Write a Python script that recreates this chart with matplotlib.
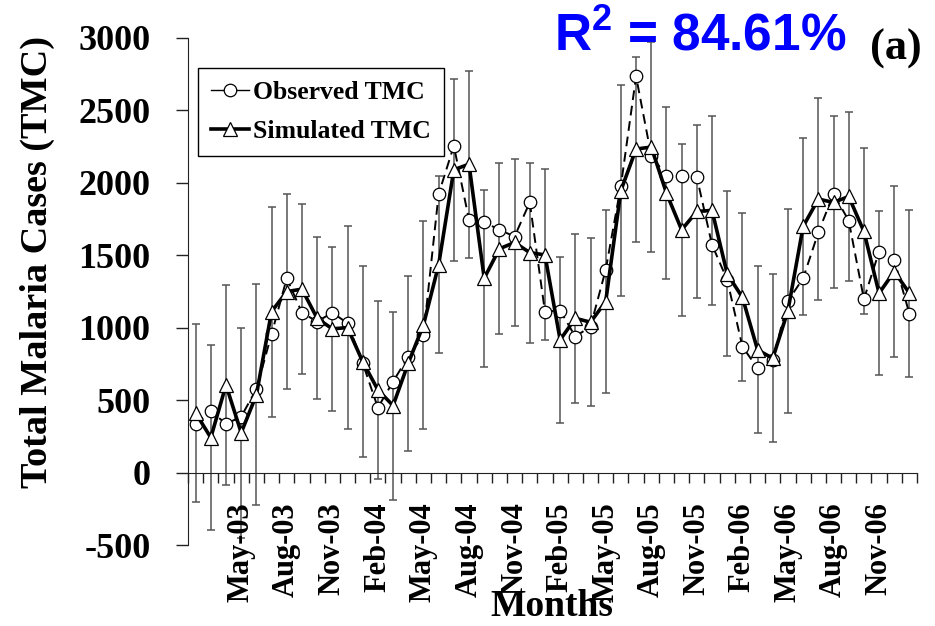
import numpy as np
import pandas as pd
from matplotlib import pyplot as plt

plt.rcParams['mathtext.fontset'] = 'custom'
plt.rcParams['mathtext.bf'] = 'Liberation Sans:bold'

# monthly totals, Feb-03 .. Jan-07
months = pd.date_range('2003-02-01', periods=48, freq='MS').strftime('%b-%y').tolist()
observed = [338, 428, 338, 389, 578, 957, 1343, 1106, 1044, 1106, 1033, 757,
            451, 630, 803, 952, 1923, 2257, 1746, 1730, 1677, 1631, 1866, 1113,
            1120, 941, 1010, 1401, 1981, 2735, 2188, 2050, 2050, 2041, 1574, 1332,
            872, 722, 780, 1187, 1343, 1659, 1925, 1741, 1199, 1527, 1470, 1097]
simulated = [414, 244, 607, 278, 538, 1113, 1251, 1268, 1067, 994, 1003, 768,
             573, 465, 757, 1021, 1435, 2091, 2130, 1343, 1546, 1590, 1520, 1504,
             918, 1067, 1040, 1182, 1948, 2234, 2248, 1930, 1677, 1804, 1811, 1373,
             1212, 849, 791, 1120, 1700, 1889, 1866, 1907, 1666, 1240, 1389, 1240]
errors = [614, 640, 690, 725, 762, 724, 673, 585, 559, 564, 699, 659,
          612, 648, 604, 716, 610, 626, 645, 612, 589, 576, 621, 590,
          575, 581, 579, 630, 729, 638, 725, 595, 591, 599, 654, 569,
          578, 576, 578, 704, 607, 694, 593, 581, 572, 566, 592, 576]
yticks = [-500, 0, 500, 1000, 1500, 2000, 2500, 3000]

serif = 'Liberation Serif'
x = np.arange(len(months))

fig = plt.figure(figsize=(9.35, 6.26), dpi=100)
ax = fig.add_axes([0.2011, 0.1286, 0.7797, 0.8107])

# error bars around simulated values
ax.errorbar(x, simulated, yerr=errors, fmt='none', ecolor='#555555',
            elinewidth=1.1, capsize=2.6, capthick=1.1, zorder=1)

ax.plot(x, observed, color='black', lw=1.4, ls=(0, (5, 3)), marker='o',
        markersize=9, markerfacecolor='white', markeredgecolor='black',
        markeredgewidth=0.9, zorder=2)
ax.plot(x, simulated, color='black', lw=2.6, marker='^',
        markersize=9.5, markerfacecolor='white', markeredgecolor='black',
        markeredgewidth=0.9, zorder=3)

# legend handles (solid short lines like the original)
h_obs, = ax.plot([], [], color='black', lw=1.0, marker='o', markersize=9,
                 markerfacecolor='white', markeredgecolor='black', markeredgewidth=0.9)
h_sim, = ax.plot([], [], color='black', lw=2.6, marker='^', markersize=9.5,
                 markerfacecolor='white', markeredgecolor='black', markeredgewidth=0.9)
leg = ax.legend([h_obs, h_sim], ['Observed TMC', 'Simulated TMC'],
                loc='upper left', bbox_to_anchor=(0.0137, 0.941), borderaxespad=0,
                frameon=True, fancybox=False, framealpha=1, edgecolor='black',
                handlelength=1.5, handletextpad=0.15, borderpad=0.5, labelspacing=0.62,
                prop={'family': serif, 'weight': 'bold', 'size': 18.5})
leg.get_frame().set_linewidth(1.0)

ax.set_xlim(-0.5, len(months) - 0.5)
ax.set_ylim(-500, 3000)
ax.spines['top'].set_visible(False)
ax.spines['right'].set_visible(False)
ax.spines['bottom'].set_position(('data', 0))
ax.spines['left'].set_color('#222222')
ax.spines['bottom'].set_color('#222222')

ax.set_yticks(yticks)
ax.set_yticklabels([str(v) for v in yticks], fontfamily=serif, fontweight='bold', fontsize=26)
ax.tick_params(axis='y', direction='out', length=9, width=1, pad=18, color='#222222')

lab_idx = x[3::3]
ax.set_xticks(lab_idx)
ax.set_xticklabels([months[i] for i in lab_idx], rotation=90, ha='center', va='top',
                   fontfamily=serif, fontweight='bold', fontsize=22)
ax.set_xticks(np.arange(-0.5, len(months), 1), minor=True)
ax.tick_params(axis='x', which='major', length=0, pad=21)
ax.tick_params(axis='x', which='minor', direction='out', length=7, width=1, color='#222222')

fig.text(0.040, 1 - 262 / 626, 'Total Malaria Cases (TMC)', rotation=90, ha='center', va='center',
         fontfamily=serif, fontweight='bold', fontsize=27.5)
fig.text(0.59, 1 - 607 / 626, 'Months', ha='center', va='center',
         fontfamily=serif, fontweight='bold', fontsize=27)
fig.text(0.592, 1 - 50 / 626, r'R$^\mathbf{2}$ = 84.61%', ha='left', va='baseline',
         fontfamily='Liberation Sans', fontweight='bold', fontsize=37, color='#0000ff')
fig.text(0.931, 1 - 60 / 626, '(a)', ha='left', va='baseline',
         fontfamily=serif, fontweight='bold', fontsize=32)

fig.savefig('out.png', dpi=100)
